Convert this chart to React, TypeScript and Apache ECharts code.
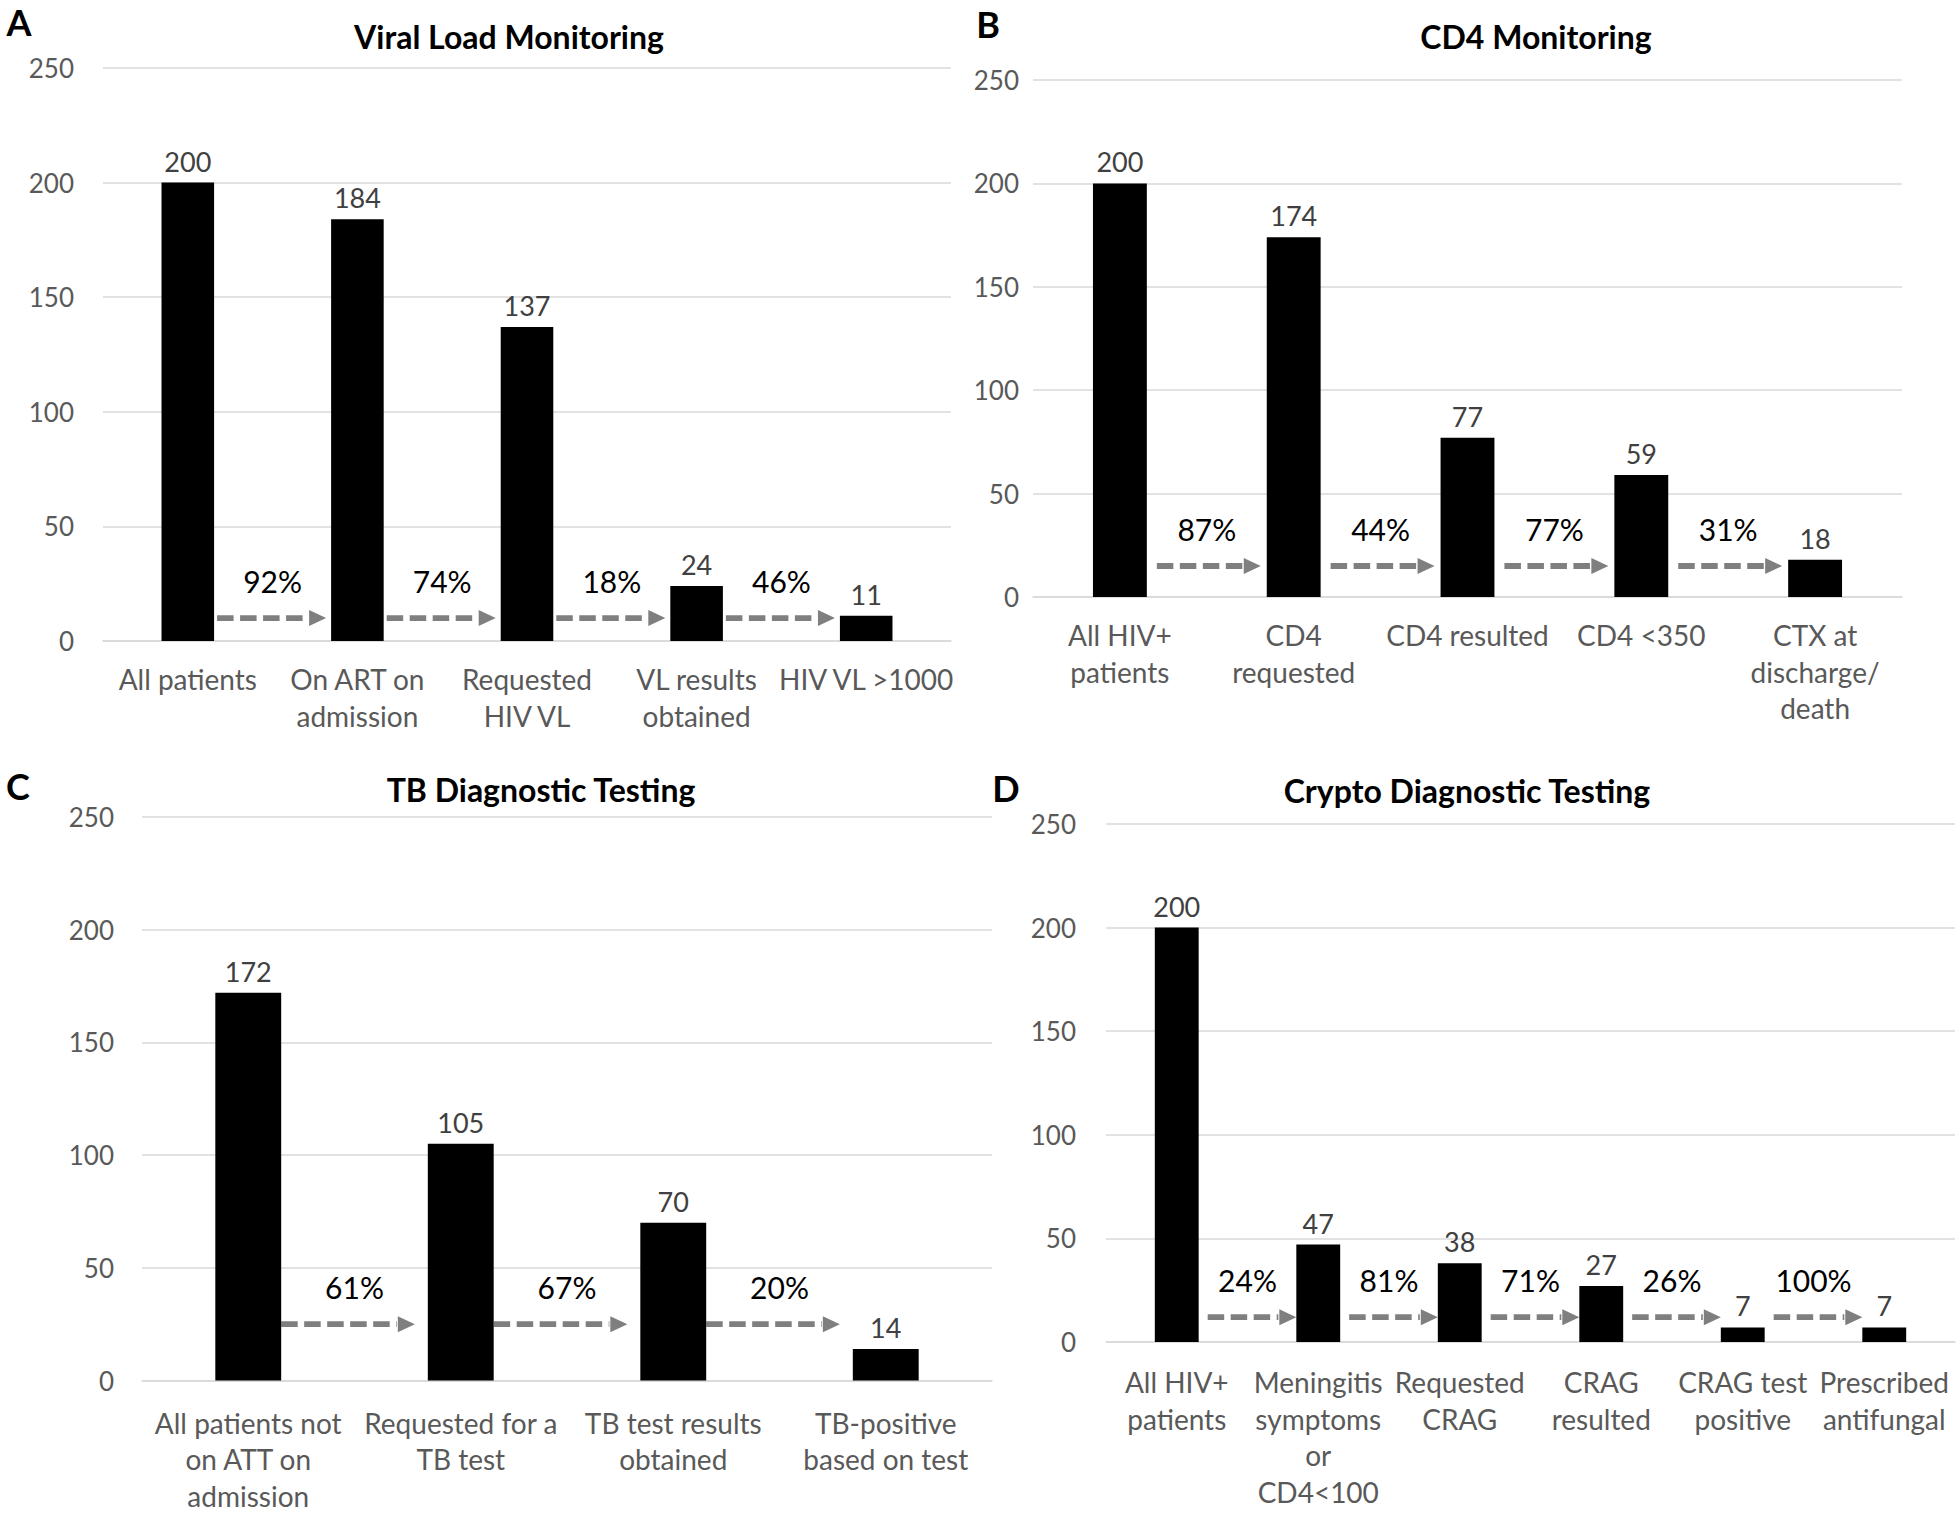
import React, { useEffect, useRef } from "react";
import * as echarts from "echarts";

const FONT = "Lato, 'Open Sans', 'Noto Sans', sans-serif";

// ---- Data ----
const yTicks = [0, 50, 100, 150, 200, 250];

const titleA = "Viral Load Monitoring";
const catsA = ["All patients", "On ART on\nadmission", "Requested\nHIV VL", "VL results\nobtained", "HIV VL >1000"];
const valsA = [200, 184, 137, 24, 11];
const pctA = ["92%", "74%", "18%", "46%"];
const arrowLevelA = 10;

const titleB = "CD4 Monitoring";
const catsB = ["All HIV+\npatients", "CD4\nrequested", "CD4 resulted", "CD4 <350", "CTX at\ndischarge/\ndeath"];
const valsB = [200, 174, 77, 59, 18];
const pctB = ["87%", "44%", "77%", "31%"];
const arrowLevelB = 15;

const titleC = "TB Diagnostic Testing";
const catsC = ["All patients not\non ATT on\nadmission", "Requested for a\nTB test", "TB test results\nobtained", "TB-positive\nbased on test"];
const valsC = [172, 105, 70, 14];
const pctC = ["61%", "67%", "20%"];
const arrowLevelC = 25;

const titleD = "Crypto Diagnostic Testing";
const catsD = ["All HIV+\npatients", "Meningitis\nsymptoms\nor\nCD4<100", "Requested\nCRAG", "CRAG\nresulted", "CRAG test\npositive", "Prescribed\nantifungal"];
const valsD = [200, 47, 38, 27, 7, 7];
const pctD = ["24%", "81%", "71%", "26%", "100%"];
const arrowLevelD = 12;

const panelLetters = ["A", "B", "C", "D"];

// ---- Layout (styling only) ----
const BAR_FRAC = 0.31;
const layouts = [
  { left: 103, top: 68, width: 848, height: 573, yMargin: 29, xMargin: 20, title: [509, 36], letter: [19, 22], gaps: [3, 5] },
  { left: 1033, top: 80, width: 869, height: 517, yMargin: 14, xMargin: 20, title: [1536, 36], letter: [988, 24], gaps: [10, 6] },
  { left: 142, top: 817, width: 850, height: 567, yMargin: 28, xMargin: 24, title: [541, 789], letter: [18, 786], gaps: [0, 13] },
  { left: 1106, top: 824, width: 849, height: 518, yMargin: 30, xMargin: 22, title: [1467, 790], letter: [1006, 788], gaps: [9, 0] },
];

const panels = [
  { title: titleA, cats: catsA, vals: valsA, pct: pctA, level: arrowLevelA },
  { title: titleB, cats: catsB, vals: valsB, pct: pctB, level: arrowLevelB },
  { title: titleC, cats: catsC, vals: valsC, pct: pctC, level: arrowLevelC },
  { title: titleD, cats: catsD, vals: valsD, pct: pctD, level: arrowLevelD },
];

function buildOption() {
  const grid: any[] = [];
  const xAxis: any[] = [];
  const yAxis: any[] = [];
  const series: any[] = [];
  const graphic: any[] = [];

  panels.forEach((p, k) => {
    const L = layouts[k];
    grid.push({ left: L.left, top: L.top, width: L.width, height: L.height, containLabel: false });
    xAxis.push({
      type: "category",
      gridIndex: k,
      data: p.cats,
      axisTick: { show: false },
      axisLine: { show: true, lineStyle: { color: "#d9d9d9", width: 1.5 } },
      axisLabel: {
        interval: 0,
        fontSize: 28,
        lineHeight: 36.5,
        color: "#595959",
        margin: L.xMargin,
        fontFamily: FONT,
      },
    });
    yAxis.push({
      type: "value",
      gridIndex: k,
      min: yTicks[0],
      max: yTicks[yTicks.length - 1],
      interval: yTicks[1] - yTicks[0],
      axisLine: { show: false },
      axisTick: { show: false },
      splitLine: { lineStyle: { color: "#d9d9d9", width: 1.5 } },
      axisLabel: { fontSize: 26, color: "#595959", margin: L.yMargin, fontFamily: FONT },
    });
    series.push({
      type: "bar",
      xAxisIndex: k,
      yAxisIndex: k,
      data: p.vals,
      barWidth: BAR_FRAC * 100 + "%",
      itemStyle: { color: "#000000" },
      label: {
        show: true,
        position: "top",
        distance: 8,
        fontSize: 27,
        color: "#404040",
        fontFamily: FONT,
      },
      silent: true,
    });
    const arrowData = p.pct.map((_, i) => [i, p.level]);
    const gaps = L.gaps;
    const pcts = p.pct;
    series.push({
      type: "custom",
      xAxisIndex: k,
      yAxisIndex: k,
      data: arrowData,
      silent: true,
      clip: false,
      renderItem: (params: any, api: any) => {
        const i = api.value(0);
        const lv = api.value(1);
        const p0 = api.coord([i, lv]);
        const p1 = api.coord([i + 1, lv]);
        const band = api.size([1, 0])[0];
        const half = (band * BAR_FRAC) / 2;
        const x0 = p0[0] + half + gaps[0];
        const tip = p1[0] - half - gaps[1];
        const head = 17;
        const hh = 8;
        const y = p0[1];
        return {
          type: "group",
          children: [
            {
              type: "line",
              shape: { x1: x0, y1: y, x2: tip - head - 1, y2: y },
              style: { stroke: "#7f7f7f", lineWidth: 5.8, lineDash: [16.5, 6.5] },
            },
            {
              type: "polygon",
              shape: { points: [[tip - head, y - hh], [tip, y], [tip - head, y + hh]] },
              style: { fill: "#7f7f7f" },
            },
            {
              type: "text",
              x: (p0[0] + p1[0]) / 2,
              y: y - 37,
              style: {
                text: pcts[params.dataIndex],
                fontSize: 30,
                fontFamily: FONT,
                fill: "#000000",
                align: "center",
                verticalAlign: "middle",
              },
            },
          ],
        };
      },
    });
    graphic.push({
      type: "text",
      x: L.title[0],
      y: L.title[1],
      style: {
        text: p.title,
        fontSize: 32,
        fontWeight: "bold",
        fontFamily: FONT,
        fill: "#000000",
        align: "center",
        verticalAlign: "middle",
      },
    });
    graphic.push({
      type: "text",
      x: L.letter[0],
      y: L.letter[1],
      style: {
        text: panelLetters[k],
        fontSize: 36,
        fontWeight: "bold",
        fontFamily: FONT,
        fill: "#000000",
        align: "center",
        verticalAlign: "middle",
      },
    });
  });

  return {
    animation: false,
    backgroundColor: "#ffffff",
    grid,
    xAxis,
    yAxis,
    series,
    graphic,
  };
}

export default function App() {
  const ref = useRef<HTMLDivElement>(null);
  useEffect(() => {
    document.body.style.margin = "0";
    if (!ref.current) return;
    const chart = echarts.init(ref.current, undefined, { renderer: "svg" });
    chart.setOption(buildOption() as any);
    return () => {
      chart.dispose();
    };
  }, []);
  return <div ref={ref} style={{ width: 1960, height: 1514, background: "#fff" }} />;
}
